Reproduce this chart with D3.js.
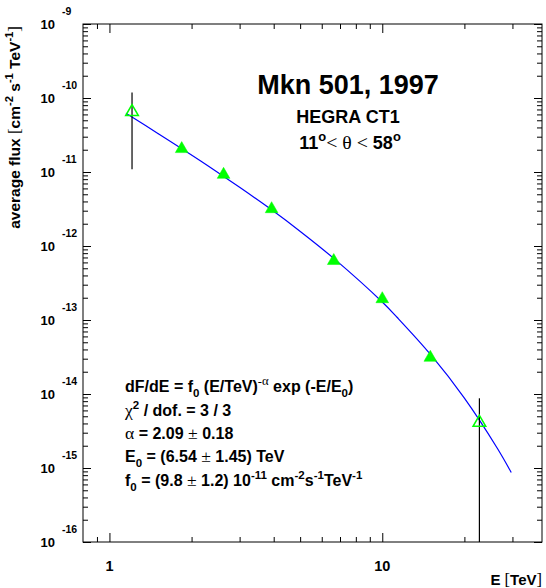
<!DOCTYPE html>
<html lang="en">
<head>
<meta charset="UTF-8">
<title>Mkn 501 spectrum</title>
<script src="https://d3js.org/d3.v7.min.js"></script>
<style>
  body { margin: 0; background: #fff; }
  text { font-family: "Liberation Sans", Arial, sans-serif; font-weight: bold; fill: #000; }
  .sym { font-family: "Liberation Serif", "DejaVu Serif", serif; font-weight: normal; }
</style>
</head>
<body>
<svg id="chart" width="546" height="588"></svg>
<script>
// measured points (TeV, cm^-2 s^-1 TeV^-1)
const energy = [1.21, 1.84, 2.62, 3.93, 6.64, 10.0, 15.0, 22.7];
const flux = [6.5e-11, 2.05e-11, 9.2e-12, 3.16e-12, 6.3e-13, 1.92e-13, 3.1e-14, 4.1e-15];
const openMarker = [true, false, false, false, false, false, false, true];
const errHigh = [1.19e-10, null, null, null, null, null, null, 8.75e-15];
const errLow = [1.09e-11, null, null, null, null, null, null, 1e-17];

// fitted curve
const fitE = [1.15, 1.5, 2.16, 3.0, 3.93, 5.02, 6.64, 10.0, 11.35, 15.0, 20.0, 26.4, 29.7];
const fitF = [6.2e-11, 3.35e-11, 1.41e-11, 6.2e-12, 3.08e-12, 1.56e-12, 6.8e-13, 1.75e-13, 1.08e-13, 3.45e-14, 8.8e-15, 1.85e-15, 8.7e-16];

const xMajor = [1, 10];
const xMinor = [0.9, 2, 3, 4, 5, 6, 7, 8, 9, 20, 30];
const yExp = [-16, -15, -14, -13, -12, -11, -10, -9];

const svg = d3.select('#chart');
const L = 83, R = 542, T = 24, B = 542;

const x = d3.scaleLog().domain([0.8, 38.5]).range([L, R]);
const y = d3.scaleLog().domain([1e-16, 1e-9]).range([B, T]);

const yMajor = yExp.map(e => Math.pow(10, e));
const yMinor = [];
yExp.slice(0, -1).forEach(e => {
    for (let k = 2; k <= 9; k++) yMinor.push(k * Math.pow(10, e));
});

// frame
svg.append('rect')
    .attr('x', L).attr('y', T)
    .attr('width', R - L).attr('height', B - T)
    .attr('fill', 'none').attr('stroke', '#000').attr('stroke-width', 1);

function ticks(axis, vals, len, tr) {
    const g = svg.append('g').attr('transform', tr)
        .call(axis.tickValues(vals).tickSize(-len).tickFormat(''));
    g.select('.domain').remove();
    g.selectAll('line').attr('stroke', '#000').attr('stroke-width', 1);
}
ticks(d3.axisBottom(x), xMajor, 9, `translate(0,${B})`);
ticks(d3.axisBottom(x), xMinor, 5, `translate(0,${B})`);
ticks(d3.axisTop(x), xMajor, 9, `translate(0,${T})`);
ticks(d3.axisTop(x), xMinor, 5, `translate(0,${T})`);
ticks(d3.axisLeft(y), yMajor, 8, `translate(${L},0)`);
ticks(d3.axisLeft(y), yMinor, 5, `translate(${L},0)`);
ticks(d3.axisRight(y), yMajor, 8, `translate(${R},0)`);
ticks(d3.axisRight(y), yMinor, 5, `translate(${R},0)`);

// rich text helper: parts = [[str, mode]], mode: n, sup, sub, sym, symsup
function rich(el, parts, size) {
    let cur = 0;
    parts.forEach(([s, m]) => {
        let off = 0, fs = size, cls = null;
        if (m === 'sup' || m === 'symsup') { off = -0.45 * size; fs = size * 0.72; }
        if (m === 'sub') { off = 0.3 * size; fs = size * 0.72; }
        if (m === 'sym' || m === 'symsup') { cls = 'sym'; fs *= 1.1; }
        el.append('tspan')
            .attr('dy', off - cur)
            .attr('font-size', fs)
            .attr('class', cls)
            .text(s);
        cur = off;
    });
}

// y tick labels
yExp.forEach(e => {
    const yy = y(Math.pow(10, e));
    svg.append('text').attr('x', 55).attr('y', yy + 4.5)
        .attr('text-anchor', 'end').attr('font-size', 13).text('10');
    svg.append('text').attr('x', 62).attr('y', yy - 9)
        .attr('font-size', 10.5).text(e);
});

// x tick labels
xMajor.forEach(v => {
    svg.append('text').attr('x', x(v)).attr('y', 571)
        .attr('text-anchor', 'middle').attr('font-size', 14.5).text(v);
});

// axis titles
const xt = svg.append('text').attr('x', R).attr('y', 585)
    .attr('text-anchor', 'end').attr('font-size', 15);
rich(xt, [['E ', 'n'], ['[', 'sym'], ['TeV', 'n'], [']', 'sym']], 15);

const yt = svg.append('text')
    .attr('transform', 'translate(20,26) rotate(-90)')
    .attr('text-anchor', 'end').attr('font-size', 15.5);
rich(yt, [['average flux ', 'n'], ['[', 'sym'], ['cm', 'n'], ['-2', 'sup'], [' s', 'n'], ['-1', 'sup'],
    [' TeV', 'n'], ['-1', 'sup'], [']', 'sym']], 15.5);

// fit curve
svg.append('path')
    .datum(fitE.map((e, i) => [e, fitF[i]]))
    .attr('fill', 'none').attr('stroke', '#0000ff').attr('stroke-width', 1.2)
    .attr('d', d3.line().x(d => x(d[0])).y(d => y(d[1])).curve(d3.curveCatmullRom));

// error bars
svg.append('clipPath').attr('id', 'frame')
    .append('rect').attr('x', L).attr('y', T).attr('width', R - L).attr('height', B - T);
energy.forEach((e, i) => {
    if (errHigh[i] == null) return;
    svg.append('line').attr('clip-path', 'url(#frame)')
        .attr('x1', x(e)).attr('x2', x(e))
        .attr('y1', y(errHigh[i])).attr('y2', y(errLow[i]))
        .attr('stroke', '#000').attr('stroke-width', 1.2);
});

// markers
const tri = d3.symbol(d3.symbolTriangle, 70);
energy.forEach((e, i) => {
    svg.append('path')
        .attr('d', tri())
        .attr('transform', `translate(${x(e)},${y(flux[i])})`)
        .attr('fill', openMarker[i] ? 'none' : '#00ff00')
        .attr('stroke', '#00ff00')
        .attr('stroke-width', openMarker[i] ? 1.5 : 0.5);
});

// title block
svg.append('text').attr('x', 348).attr('y', 94).attr('text-anchor', 'middle')
    .attr('font-size', 27).text('Mkn 501, 1997');
svg.append('text').attr('x', 348).attr('y', 123).attr('text-anchor', 'middle')
    .attr('font-size', 18).text('HEGRA CT1');
const th = svg.append('text').attr('x', 350).attr('y', 149).attr('text-anchor', 'middle')
    .attr('font-size', 18);
rich(th, [['11', 'n'], ['o', 'sup'], ['<', 'sym'], [' \u03b8 ', 'sym'], ['<', 'sym'], [' 58', 'n'], ['o', 'sup']], 18);

// fit parameters
const fitLines = [
    [['dF/dE = f', 'n'], ['0', 'sub'], [' (E/TeV)', 'n'], ['-\u03b1', 'symsup'], [' exp (-E/E', 'n'], ['0', 'sub'], [')', 'n']],
    [['\u03c7', 'sym'], ['2', 'sup'], [' / dof. = 3 / 3', 'n']],
    [['\u03b1', 'sym'], [' = 2.09 ', 'n'], ['\u00b1', 'sym'], [' 0.18', 'n']],
    [['E', 'n'], ['0', 'sub'], [' = (6.54 ', 'n'], ['\u00b1', 'sym'], [' 1.45) TeV', 'n']],
    [['f', 'n'], ['0', 'sub'], [' = (9.8 ', 'n'], ['\u00b1', 'sym'], [' 1.2) 10', 'n'], ['-11', 'sup'], [' cm', 'n'], ['-2', 'sup'],
        ['s', 'n'], ['-1', 'sup'], ['TeV', 'n'], ['-1', 'sup']]
];
const fitY = [392, 416, 439, 462, 486];
fitLines.forEach((parts, i) => {
    const t = svg.append('text').attr('x', 125).attr('y', fitY[i]).attr('font-size', 16);
    rich(t, parts, 16);
});
</script>
</body>
</html>
